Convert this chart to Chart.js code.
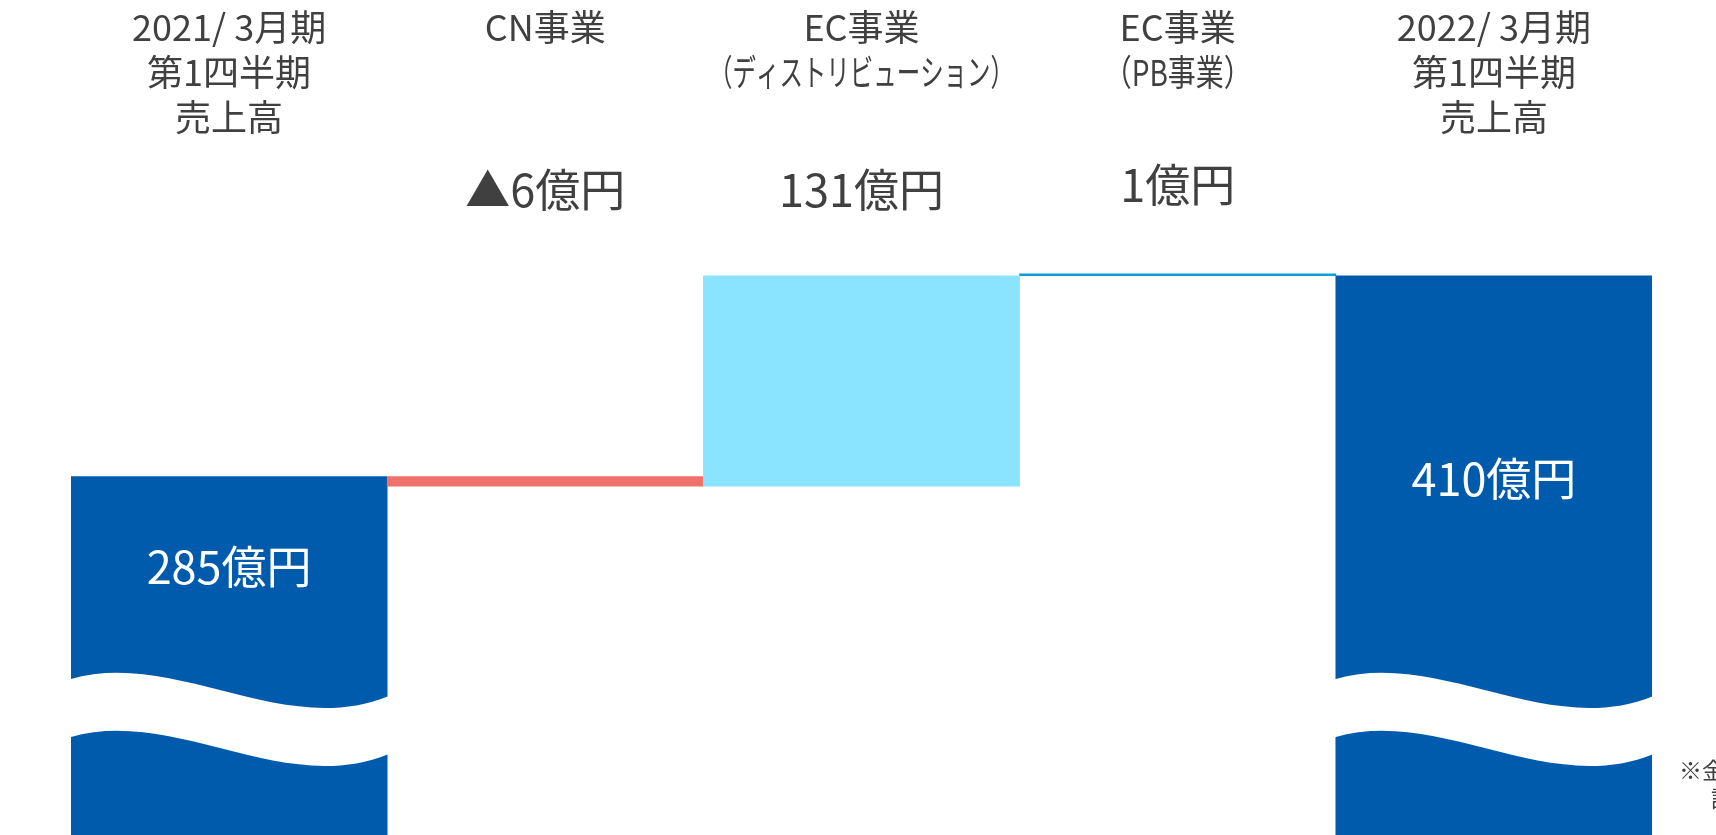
<!DOCTYPE html>
<html>
<head>
<meta charset="utf-8">
<script src="https://cdn.jsdelivr.net/npm/chart.js@4.4.1/dist/chart.umd.min.js"></script>
<style>
  html, body { margin: 0; padding: 0; background: #ffffff; }
  #wrap { width: 1716px; height: 835px; position: relative; overflow: hidden; }
</style>
</head>
<body>
<div id="wrap"><canvas id="c"></canvas></div>
<script>
// ---------------- data ----------------
const categories = [
  ['2021/ 3月期', '第1四半期', '売上高'],
  ['CN事業'],
  ['EC事業', '（ディストリビューション）'],
  ['EC事業', '（PB事業）'],
  ['2022/ 3月期', '第1四半期', '売上高']
];
const values = [285, -6, 131, 1, 410];
const barKinds = ['total', 'delta', 'delta', 'delta', 'total'];
const unitLabel = '億円';
const footnoteLines = ['※金額は億円未満を切り捨てて表示しております', '記載しております'];
const axisMin = 62;
const axisMax = 436;
const breakValue = 159;

// ---------------- styles ----------------
const FONT = '"Noto Sans CJK JP", "Noto Sans", sans-serif';
const TEXT_COLOR = '#404040';
const barColors = ['#005BAC', '#F0706A', '#8AE3FF', '#0A9FD8', '#005BAC'];
const titleStyle = { size: 36, firstLineY: 27, lineStep: 45 };
const deltaLabelSize = 45;
const deltaLabelY = [null, 190, 190, 185, null];
const insideLabelOffset = [90, null, null, null, 203];
const titleLineMaxWidth = { '（ディストリビューション）': 305, '（PB事業）': 148 };
const wave = { up: -30, down: 60, end: 17, band: 58 };

// ---------------- derived floating ranges ----------------
let running = 0;
const ranges = values.map((v, i) => {
  if (barKinds[i] === 'total') { running = v; return [0, v]; }
  const start = running;
  running += v;
  return [start, running];
});
const labelText = values.map(v => (v < 0 ? '▲' + Math.abs(v) : String(v)) + unitLabel);

const decorPlugin = {
  id: 'decor',
  afterDatasetsDraw(chart) {
    const ctx = chart.ctx;
    const meta = chart.getDatasetMeta(0);
    const yScale = chart.scales.y;
    ctx.save();
    // axis-break waves on total bars
    meta.data.forEach((el, i) => {
      if (barKinds[i] !== 'total') return;
      const x0 = el.x - el.width / 2 - 1;
      const x1 = el.x + el.width / 2 + 1;
      const w = x1 - x0;
      const yt = yScale.getPixelForValue(breakValue);
      const b = wave.band;
      ctx.beginPath();
      ctx.moveTo(x0, yt);
      ctx.bezierCurveTo(x0 + w / 3, yt + wave.up, x0 + 2 * w / 3, yt + wave.down, x1, yt + wave.end);
      ctx.lineTo(x1, yt + wave.end + b);
      ctx.bezierCurveTo(x0 + 2 * w / 3, yt + wave.down + b, x0 + w / 3, yt + wave.up + b, x0, yt + b);
      ctx.closePath();
      ctx.fillStyle = '#ffffff';
      ctx.fill();
    });
    // value labels
    ctx.textAlign = 'center';
    ctx.textBaseline = 'middle';
    ctx.font = deltaLabelSize + 'px ' + FONT;
    meta.data.forEach((el, i) => {
      if (barKinds[i] === 'total') {
        ctx.fillStyle = '#ffffff';
        const top = Math.min(el.y, el.base);
        ctx.fillText(labelText[i], el.x, top + insideLabelOffset[i]);
      } else {
        ctx.fillStyle = TEXT_COLOR;
        ctx.fillText(labelText[i], el.x, deltaLabelY[i]);
      }
    });
    ctx.restore();
  },
  afterDraw(chart) {
    const ctx = chart.ctx;
    const meta = chart.getDatasetMeta(0);
    ctx.save();
    ctx.fillStyle = TEXT_COLOR;
    ctx.textAlign = 'center';
    ctx.textBaseline = 'middle';
    ctx.font = titleStyle.size + 'px ' + FONT;
    chart.data.labels.forEach((lines, i) => {
      const el = meta.data[i];
      lines.forEach((line, j) => {
        const y = titleStyle.firstLineY + j * titleStyle.lineStep;
        const mw = titleLineMaxWidth[line];
        if (mw) ctx.fillText(line, el.x, y, mw);
        else ctx.fillText(line, el.x, y);
      });
    });
    // footnote
    ctx.textAlign = 'left';
    ctx.font = '23px ' + FONT;
    const area = chart.chartArea;
    ctx.fillText(footnoteLines[0], area.right + 27, 770);
    ctx.fillText(footnoteLines[1], area.right + 59, 798);
    ctx.restore();
  }
};

Chart.defaults.font.family = FONT;

new Chart(document.getElementById('c'), {
  type: 'bar',
  data: {
    labels: categories,
    datasets: [{
      data: ranges,
      backgroundColor: barColors,
      borderWidth: 0,
      borderSkipped: false,
      categoryPercentage: 1.0,
      barPercentage: 1.0,
      minBarLength: 2
    }]
  },
  options: {
    responsive: true,
    maintainAspectRatio: false,
    animation: false,
    layout: { padding: { top: 234, left: 71, right: 64, bottom: 0 } },
    plugins: { legend: { display: false }, tooltip: { enabled: false } },
    scales: {
      x: { display: false },
      y: { display: false, min: axisMin, max: axisMax }
    }
  },
  plugins: [decorPlugin]
});
</script>
</body>
</html>
